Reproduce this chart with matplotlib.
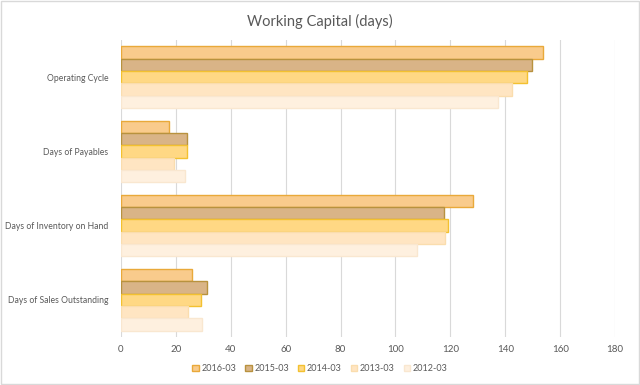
import numpy as np
import matplotlib
matplotlib.use('Agg')
import matplotlib.pyplot as plt
from matplotlib.patches import Rectangle

plt.rcParams['font.family'] = ['Lato', 'DejaVu Sans']

categories = ['Operating Cycle', 'Days of Payables', 'Days of Inventory on Hand', 'Days of Sales Outstanding']
years = ['2016-03', '2015-03', '2014-03', '2013-03', '2012-03']
v2016 = [153.9, 17.4, 128.4, 25.7]
v2015 = [149.6, 23.9, 117.8, 31.4]
v2014 = [148.1, 23.9, 119.2, 29.0]
v2013 = [142.3, 19.4, 118.0, 24.3]
v2012 = [137.5, 23.3, 108.0, 29.4]
series = [v2016, v2015, v2014, v2013, v2012]

fills = ['#F9CB8C', '#D9B487', '#FFD884', '#FFE5C2', '#FEF0DF']
edges = ['#E9A93A', '#B8923E', '#F3C130', '#FADDAE', '#F9E7D0']

fig = plt.figure(figsize=(6.4, 3.85), dpi=100)
ax = fig.add_axes([0.189, 0.125, 0.772, 0.771])

n = len(years)
bh = 0.166
ypos = np.arange(len(categories))
for i, (vals, fc, ec) in enumerate(zip(series, fills, edges)):
    off = (i - (n - 1) / 2) * bh
    ax.barh(ypos + off, vals, height=bh, color=fc, edgecolor=ec, linewidth=1.0,
            label=years[i], zorder=3)

ax.set_ylim(len(categories) - 0.5, -0.5)
ax.set_xlim(0, 180)
ax.set_xticks(np.arange(0, 181, 20))
ax.set_yticks(ypos)
ax.set_yticklabels(categories)
ax.tick_params(axis='both', length=0, labelsize=7, labelcolor='#595959')
ax.tick_params(axis='y', labelsize=6.2, pad=9)
ax.tick_params(axis='x', pad=6)
ax.grid(axis='x', color='#D9D9D9', linewidth=0.8, zorder=0)
for s in ax.spines.values():
    s.set_visible(False)

fig.suptitle('Working Capital (days)', x=0.5, y=0.965, fontsize=10.5, color='#595959')

fig.legend(*ax.get_legend_handles_labels(), loc='center', bbox_to_anchor=(0.5, 0.043),
           ncol=5, frameon=False, fontsize=6.5, labelcolor='#595959',
           handlelength=0.7, handleheight=0.7, handletextpad=0.3, columnspacing=1.0)

fig.patches.append(Rectangle((0.001, 0.002), 0.997, 0.995, transform=fig.transFigure,
                             fill=False, edgecolor='#D9D9D9', linewidth=1.0))

fig.savefig('out.png', dpi=100)
